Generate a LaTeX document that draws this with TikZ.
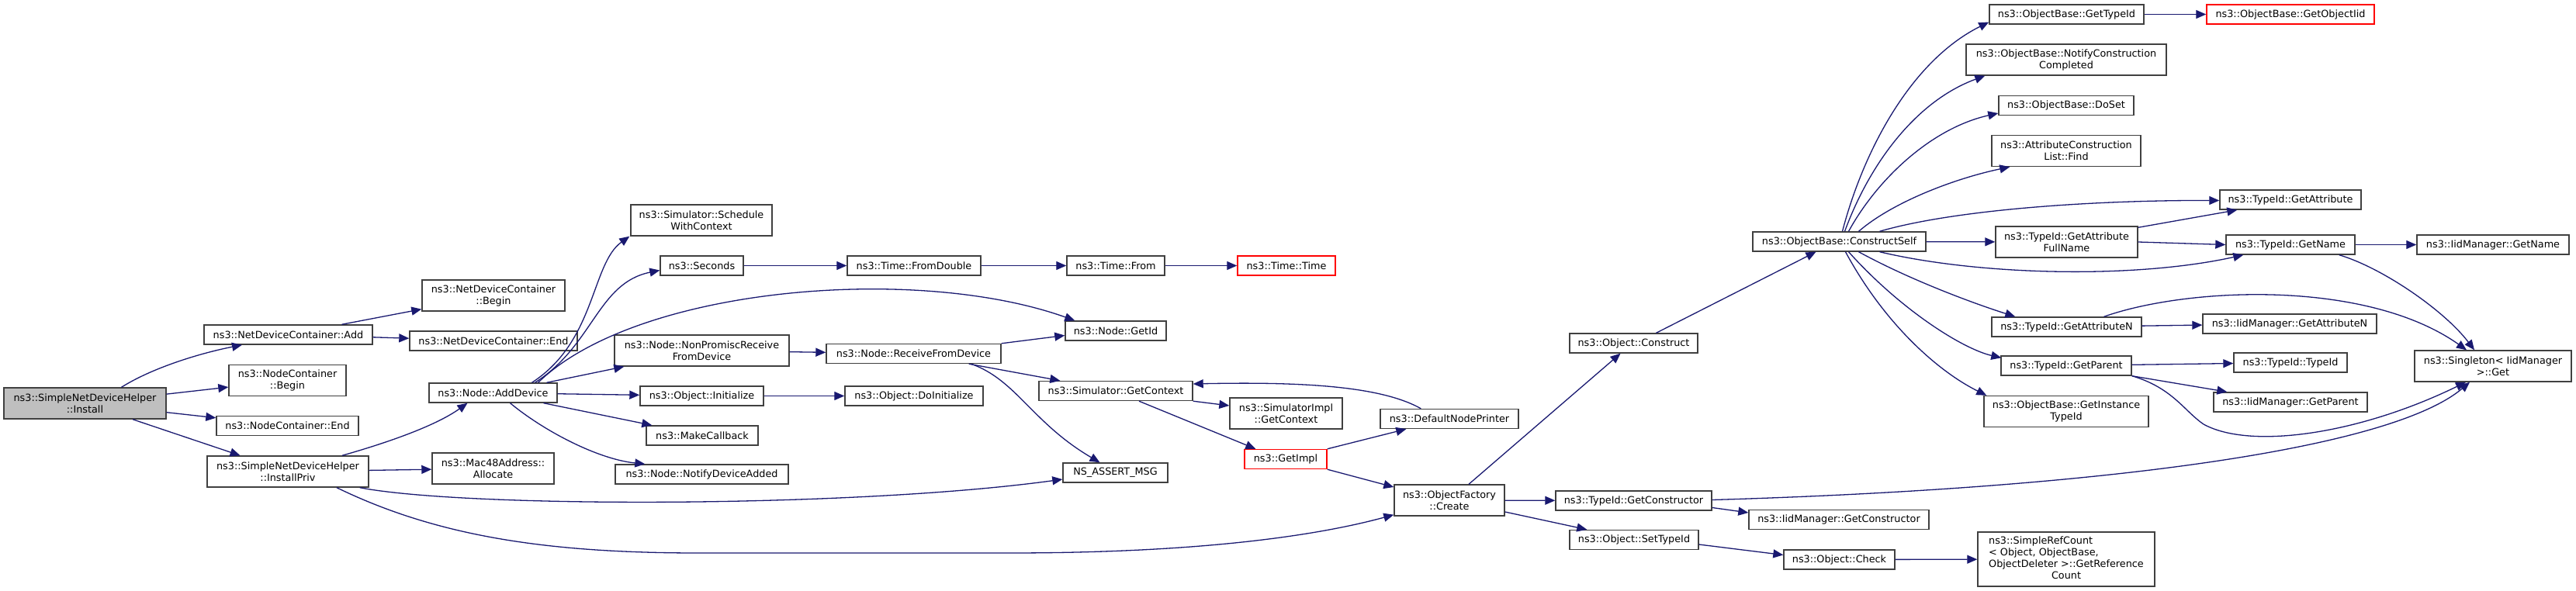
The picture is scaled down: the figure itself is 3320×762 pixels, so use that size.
\documentclass[tikz,border=0pt]{standalone}
\usepackage{fontspec}
\setmainfont{DejaVu Sans}
\usetikzlibrary{arrows.meta,calc}
\definecolor{edgeblue}{HTML}{191970}
\definecolor{boxline}{HTML}{404040}
\definecolor{trunc}{HTML}{FF0000}
\definecolor{curfill}{HTML}{BFBFBF}
\tikzset{
  fn/.style={draw=boxline, line width=1.4pt, fill=white, inner sep=0pt, align=center,
    font=\fontsize{12.8}{15}\selectfont, minimum height=25pt},
  fntwo/.style={fn, minimum height=40pt},
  redbox/.style={draw=trunc},
  curbox/.style={fill=curfill},
  call/.style={draw=edgeblue, line width=1.3pt, -{Triangle[length=13pt,width=11pt]}},
}
\begin{document}
\begin{tikzpicture}[x=1pt,y=-1pt]
\useasboundingbox (0,0) rectangle (3320,762);
% ---------- nodes ----------
\node[fntwo,curbox,minimum width=209] (Install) at (109.5,520) {ns3::SimpleNetDeviceHelper\\::Install};
\node[fn,minimum width=217] (NDCAdd) at (371.5,431.5) {ns3::NetDeviceContainer::Add};
\node[fntwo,minimum width=151] (NCBegin) at (370.5,490.5) {ns3::NodeContainer\\::Begin};
\node[fn,minimum width=183] (NCEnd) at (370.5,549) {ns3::NodeContainer::End};
\node[fntwo,minimum width=208] (InstallPriv) at (371,608) {ns3::SimpleNetDeviceHelper\\::InstallPriv};
\node[fntwo,minimum width=184] (NDCBegin) at (636,381) {ns3::NetDeviceContainer\\::Begin};
\node[fn,minimum width=216] (NDCEnd) at (636,439.5) {ns3::NetDeviceContainer::End};
\node[fn,minimum width=165] (AddDevice) at (635.5,506.5) {ns3::Node::AddDevice};
\node[fntwo,minimum width=157] (Allocate) at (635.5,604) {ns3::Mac48Address::\\Allocate};
\node[fntwo,minimum width=182] (Schedule) at (904,284) {ns3::Simulator::Schedule\\WithContext};
\node[fn,minimum width=107] (Seconds) at (904.5,342.5) {ns3::Seconds};
\node[fntwo,minimum width=225] (NonPromisc) at (904.5,452) {ns3::Node::NonPromiscReceive\\FromDevice};
\node[fn,minimum width=159] (Initialize) at (904.5,510.5) {ns3::Object::Initialize};
\node[fn,minimum width=144] (MakeCallback) at (905,561.5) {ns3::MakeCallback};
\node[fn,minimum width=223] (NotifyAdded) at (904.5,611.5) {ns3::Node::NotifyDeviceAdded};
\node[fn,minimum width=172] (FromDouble) at (1178,342.5) {ns3::Time::FromDouble};
\node[fn,minimum width=225] (RFD) at (1177.5,456) {ns3::Node::ReceiveFromDevice};
\node[fn,minimum width=178] (DoInitialize) at (1178,510.5) {ns3::Object::DoInitialize};
\node[fn,minimum width=126] (TimeFrom) at (1438,342.5) {ns3::Time::From};
\node[fn,minimum width=130] (GetId) at (1438,426.5) {ns3::Node::GetId};
\node[fn,minimum width=198] (SimGetContext) at (1438,504) {ns3::Simulator::GetContext};
\node[fn,minimum width=135] (NSAssert) at (1437.5,609.5) {NS\_ASSERT\_MSG};
\node[fn,redbox,minimum width=126] (TimeTime) at (1658,342.5) {ns3::Time::Time};
\node[fntwo,minimum width=145] (SimImplGetContext) at (1657.5,533) {ns3::SimulatorImpl\\::GetContext};
\node[fn,redbox,minimum width=106] (GetImpl) at (1657,592) {ns3::GetImpl};
\node[fn,minimum width=178] (DNP) at (1868,540) {ns3::DefaultNodePrinter};
\node[fntwo,minimum width=142] (Create) at (1868,645) {ns3::ObjectFactory\\::Create};
\node[fn,minimum width=165] (Construct) at (2105.5,442.5) {ns3::Object::Construct};
\node[fn,minimum width=201] (GetConstructor) at (2105.5,645.5) {ns3::TypeId::GetConstructor};
\node[fn,minimum width=166] (SetTypeId) at (2106,696) {ns3::Object::SetTypeId};
\node[fn,minimum width=223] (ConstructSelf) at (2370.5,311.5) {ns3::ObjectBase::ConstructSelf};
\node[fn,minimum width=232] (IidGetConstructor) at (2370,670) {ns3::IidManager::GetConstructor};
\node[fn,minimum width=143] (Check) at (2370.5,721.5) {ns3::Object::Check};
\node[fn,minimum width=199] (GetTypeId) at (2663.5,18.5) {ns3::ObjectBase::GetTypeId};
\node[fntwo,minimum width=258] (NotifyCC) at (2663,77) {ns3::ObjectBase::NotifyConstruction\\Completed};
\node[fn,minimum width=174] (DoSet) at (2663,136) {ns3::ObjectBase::DoSet};
\node[fntwo,minimum width=192] (Find) at (2663,194.5) {ns3::AttributeConstruction\\List::Find};
\node[fntwo,minimum width=183] (AttrFullName) at (2663.5,312) {ns3::TypeId::GetAttribute\\FullName};
\node[fn,minimum width=193] (GetAttributeN) at (2663.5,421.5) {ns3::TypeId::GetAttributeN};
\node[fn,minimum width=168] (GetParent) at (2663,471.5) {ns3::TypeId::GetParent};
\node[fntwo,minimum width=212] (GetInstanceTypeId) at (2663,530.5) {ns3::ObjectBase::GetInstance\\TypeId};
\node[fn,minimum width=228,minimum height=70] (SimpleRefCount) at (2663,721)
  {\begin{tabular}{@{}l@{}}ns3::SimpleRefCount\\ < Object, ObjectBase,\\
   \multicolumn{1}{@{}c@{}}{ObjectDeleter >::GetReference}\\ \multicolumn{1}{@{}c@{}}{Count}\end{tabular}};
\node[fn,redbox,minimum width=216] (GetObjectIid) at (2952,18.5) {ns3::ObjectBase::GetObjectIid};
\node[fn,minimum width=182] (GetAttribute) at (2952,257.5) {ns3::TypeId::GetAttribute};
\node[fn,minimum width=166] (GetName) at (2952,315.5) {ns3::TypeId::GetName};
\node[fn,minimum width=224] (IidGetAttributeN) at (2951,417.5) {ns3::IidManager::GetAttributeN};
\node[fn,minimum width=146] (TypeIdTypeId) at (2952,467.5) {ns3::TypeId::TypeId};
\node[fn,minimum width=198] (IidGetParent) at (2952,518.5) {ns3::IidManager::GetParent};
\node[fn,minimum width=196] (IidGetName) at (3213,315.5) {ns3::IidManager::GetName};
\node[fntwo,minimum width=202] (SingletonGet) at (3213,472) {ns3::Singleton< IidManager\\>::Get};
% ---------- edges ----------
\draw[call] ($(Install.north)+(47,0)$) .. controls (195,475) and (255,456) .. ($(NDCAdd.south)+(-59.5,0)$);
\draw[call] (Install) -- (NCBegin);
\draw[call] (Install) -- (NCEnd);
\draw[call] (Install) -- (InstallPriv);
\draw[call] (NDCAdd) -- (NDCBegin);
\draw[call] (NDCAdd) -- (NDCEnd);
\draw[call] ($(InstallPriv.north)+(70,0)$) .. controls (495,572) and (560,550) .. ($(AddDevice.south)+(-33,0)$);
\draw[call] (InstallPriv) -- (Allocate);
\draw[call] ($(InstallPriv.south east)+(-12,0)$) .. controls (600,655) and (1100,655) .. ($(NSAssert.west)+(0,8.5)$);
\draw[call] ($(InstallPriv.south)+(63,0)$) .. controls (560,690) and (700,713) .. (900,713) -- (1300,713)
   .. controls (1550,713) and (1700,690) .. ($(Create.south west)+(0,-2)$);
\draw[call] ($(AddDevice.north)+(50,0)$) .. controls (768,440) and (762,340) .. ($(Schedule.south west)+(-1,0)$);
\draw[call] ($(AddDevice.north)+(54,0)$) .. controls (765,445) and (770,365) .. ($(Seconds.west)+(0,6)$);
\draw[call] ($(AddDevice.north)+(58,0)$) .. controls (820,370) and (1180,340) .. ($(GetId.north west)+(13,0)$);
\draw[call] ($(AddDevice.north)+(69,0)$) -- ($(NonPromisc.south west)+(13,0)$);
\draw[call] (AddDevice) -- (Initialize);
\draw[call] ($(AddDevice.south)+(65,0)$) -- ($(MakeCallback.north west)+(8,0)$);
\draw[call] ($(AddDevice.south)+(22,0)$) .. controls (700,555) and (770,592) .. ($(NotifyAdded.north west)+(39,0)$);
\draw[call] (NonPromisc) -- (RFD);
\draw[call] (Seconds) -- (FromDouble);
\draw[call] (FromDouble) -- (TimeFrom);
\draw[call] (TimeFrom) -- (TimeTime);
\draw[call] (Initialize) -- (DoInitialize);
\draw[call] (RFD.north east) -- ($(GetId.west)+(0,6)$);
\draw[call] ($(RFD.south east)+(-42,0)$) -- ($(SimGetContext.north west)+(28,0)$);
\draw[call] ($(RFD.south east)+(-39,0)$) .. controls (1310,490) and (1330,545) .. ($(NSAssert.north)+(-20,0)$);
\draw[call] (SimGetContext.south east) -- ($(SimImplGetContext.west)+(0,-10)$);
\draw[call] ($(SimGetContext.south)+(30,0)$) -- ($(GetImpl.north west)+(15,0)$);
\draw[call] ($(DNP.north west)+(53,0)$) .. controls (1780,498) and (1680,492) .. ($(SimGetContext.east)+(0,-9)$);
\draw[call] (GetImpl.north east) -- ($(DNP.south west)+(34,0)$);
\draw[call] (GetImpl.south east) -- ($(Create.west)+(0,-17)$);
\draw[call] ($(Create.north)+(25,0)$) -- ($(Construct.south)+(-17,0)$);
\draw[call] (Create) -- (GetConstructor);
\draw[call] ($(Create.east)+(0,15)$) -- ($(SetTypeId.north west)+(23,0)$);
\draw[call] ($(Construct.north)+(29,0)$) -- ($(ConstructSelf.south)+(-30,0)$);
\draw[call] ($(GetConstructor.east)+(0,9)$) -- ($(IidGetConstructor.west)+(0,-9)$);
\draw[call] ($(GetConstructor.east)+(0,-1)$) .. controls (2700,630) and (3080,580) .. ($(SingletonGet.south)+(-30,0)$);
\draw[call] ($(SetTypeId.east)+(0,6)$) -- ($(Check.west)+(0,-6)$);
\draw[call] (Check) -- (SimpleRefCount);
\draw[call] ($(ConstructSelf.north)+(4,0)$) .. controls (2400,200) and (2460,80) .. ($(GetTypeId.west)+(0,10)$);
\draw[call] ($(ConstructSelf.north)+(7,0)$) .. controls (2410,210) and (2470,130) .. ($(NotifyCC.south west)+(25,0)$);
\draw[call] ($(ConstructSelf.north)+(12,0)$) .. controls (2420,230) and (2490,165) .. ($(DoSet.west)+(0,10)$);
\draw[call] ($(ConstructSelf.north)+(25,0)$) .. controls (2440,260) and (2520,230) .. ($(Find.south west)+(24,0)$);
\draw[call] ($(ConstructSelf.north)+(52,0)$) .. controls (2520,270) and (2700,258) .. ($(GetAttribute.west)+(0,1)$);
\draw[call] (ConstructSelf) -- (AttrFullName);
\draw[call] ($(ConstructSelf.south)+(52,0)$) .. controls (2550,355) and (2750,360) .. ($(GetName.south west)+(23,0)$);
\draw[call] ($(ConstructSelf.south)+(25,0)$) .. controls (2460,360) and (2540,390) .. ($(GetAttributeN.north west)+(31,0)$);
\draw[call] ($(ConstructSelf.south)+(12,0)$) .. controls (2450,400) and (2530,450) .. ($(GetParent.north west)+(1,3)$);
\draw[call] ($(ConstructSelf.south)+(8,0)$) .. controls (2430,420) and (2500,480) .. ($(GetInstanceTypeId.north west)+(4,0)$);
\draw[call] (GetTypeId) -- (GetObjectIid);
\draw[call] ($(AttrFullName.north east)+(0,2)$) -- ($(GetAttribute.south west)+(23,0)$);
\draw[call] (AttrFullName.east) -- (GetName.west);
\draw[call] (GetName) -- (IidGetName);
\draw[call] ($(GetName.south east)+(-21,0)$) .. controls (3070,345) and (3150,400) .. ($(SingletonGet.north)+(-24,0)$);
\draw[call] (GetAttributeN) -- (IidGetAttributeN);
\draw[call] ($(GetAttributeN.north)+(48,0)$) .. controls (2820,370) and (3050,360) .. ($(SingletonGet.north)+(-34,0)$);
\draw[call] (GetParent) -- (TypeIdTypeId);
\draw[call] (GetParent.south east) -- ($(IidGetParent.north west)+(18,0)$);
\draw[call] (GetParent.south east) .. controls (2800,500) and (2815,530) .. (2840,547)
   .. controls (2900,580) and (3040,560) .. ($(SingletonGet.south)+(-35,0)$);
\end{tikzpicture}
\end{document}
